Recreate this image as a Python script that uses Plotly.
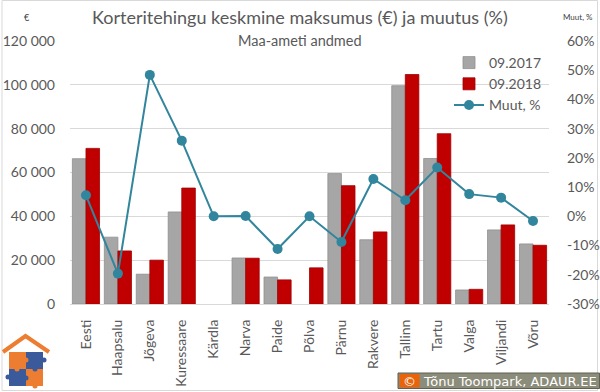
import plotly.graph_objects as go

# ---------------- data ----------------
cities = ["Eesti", "Haapsalu", "Jõgeva", "Kuressaare", "Kärdla", "Narva", "Paide", "Põlva",
          "Pärnu", "Rakvere", "Tallinn", "Tartu", "Valga", "Viljandi", "Võru"]
price_2017 = [66300, 30500, 13600, 42000, None, 21000, 12300, None,
              59500, 29300, 99600, 66400, 6400, 33800, 27400]
price_2018 = [71000, 24200, 20000, 52900, None, 20900, 11000, 16500,
              54000, 32900, 104700, 77700, 6700, 36100, 26800]
change_pct = [7.2, -19.6, 48.4, 25.9, 0.0, 0.1, -11.2, 0.0,
              -8.8, 12.8, 5.5, 16.7, 7.6, 6.4, -1.6]

left_ticks = [0, 20000, 40000, 60000, 80000, 100000, 120000]
left_ticktext = ["0", "20 000", "40 000", "60 000", "80 000", "100 000", "120 000"]
right_ticks = [-30, -20, -10, 0, 10, 20, 30, 40, 50, 60]
right_ticktext = ["-30%", "-20%", "-10%", "0%", "10%", "20%", "30%", "40%", "50%", "60%"]

# ---------------- layout geometry ----------------
W, H = 600, 392
ML, MR, MT, MB = 70, 51, 41, 88
PW, PH = W - ML - MR, H - MT - MB


def px(x):
    return (x - ML) / PW


def py(y):
    return (H - MB - y) / PH


FONT = "Lato"
TXT = "#595959"

fig = go.Figure()
fig.add_trace(go.Bar(x=cities, y=price_2017, name="09.2017",
                     marker=dict(color="#a6a6a6", line=dict(color="#8f8f8f", width=0.8))))
fig.add_trace(go.Bar(x=cities, y=price_2018, name="09.2018",
                     marker=dict(color="#c00000", line=dict(color="#a00000", width=0.8))))
fig.add_trace(go.Scatter(x=cities, y=change_pct, name="Muut, %", yaxis="y2",
                         mode="lines+markers",
                         line=dict(color="#31859c", width=2),
                         marker=dict(color="#31859c", size=10)))

shapes = []
# chart border
shapes.append(dict(type="rect", xref="paper", yref="paper",
                   x0=px(2), x1=px(597.5), y0=py(390.5), y1=py(0.5),
                   line=dict(color="#d9d9d9", width=1), fillcolor="rgba(0,0,0,0)", layer="below"))
# logo: roof
shapes.append(dict(type="path", xref="paper", yref="paper",
                   path=f"M {px(3)} {py(352)} L {px(25.5)} {py(336)} L {px(49)} {py(352)}",
                   line=dict(color="#ed7d31", width=4)))
# logo: puzzle squares
for (x0, y0, c) in [(9, 352, "#ed7d31"), (26, 352, "#3a5a9c"), (9, 369, "#3a5a9c"), (26, 369, "#ed7d31")]:
    shapes.append(dict(type="rect", xref="paper", yref="paper",
                       x0=px(x0), x1=px(x0 + 17), y0=py(y0 + 17), y1=py(y0),
                       line=dict(width=0), fillcolor=c))
# puzzle nubs
for (cx, cy, c) in [(26, 360, "#ed7d31"), (35, 369, "#3a5a9c"), (17, 369, "#ed7d31"), (26, 378, "#3a5a9c"),
                    (44, 360, "#3a5a9c"), (8, 377, "#3a5a9c"), (35, 386, "#ed7d31")]:
    shapes.append(dict(type="circle", xref="paper", yref="paper",
                       x0=px(cx - 2.5), x1=px(cx + 2.5), y0=py(cy + 2.5), y1=py(cy - 2.5),
                       line=dict(width=0), fillcolor=c))
# credit box
shapes.append(dict(type="rect", xref="paper", yref="paper",
                   x0=px(398), x1=px(599.5), y0=py(388.5), y1=py(373),
                   line=dict(color="#5f5f52", width=1), fillcolor="#8c8c7b"))
shapes.append(dict(type="rect", xref="paper", yref="paper",
                   x0=px(399.5), x1=px(419.5), y0=py(387.5), y1=py(374),
                   line=dict(width=0), fillcolor="#e8630a"))

annotations = [
    dict(text="Korteritehingu keskmine maksumus (€) ja muutus (%)", x=px(300), y=py(17),
         xref="paper", yref="paper", showarrow=False, xanchor="center", yanchor="middle",
         font=dict(family=FONT, size=18, color=TXT)),
    dict(text="Maa-ameti andmed", x=px(300), y=py(40),
         xref="paper", yref="paper", showarrow=False, xanchor="center", yanchor="middle",
         font=dict(family=FONT, size=14.5, color=TXT)),
    dict(text="€", x=px(27), y=py(17), xref="paper", yref="paper", showarrow=False,
         xanchor="center", yanchor="middle", font=dict(family=FONT, size=9, color="#404040")),
    dict(text="Muut, %", x=px(578), y=py(17), xref="paper", yref="paper", showarrow=False,
         xanchor="center", yanchor="middle", font=dict(family=FONT, size=8, color="#404040")),
    dict(text="©", x=px(409.5), y=py(381), xref="paper", yref="paper", showarrow=False,
         xanchor="center", yanchor="middle", font=dict(family="DejaVu Sans", size=13, color="white")),
    dict(text="Tõnu Toompark, ADAUR.EE", x=px(421), y=py(381), xref="paper", yref="paper",
         showarrow=False, xanchor="left", yanchor="middle",
         font=dict(family="DejaVu Sans", size=13, color="white")),
]

fig.update_layout(
    width=W, height=H,
    margin=dict(l=ML, r=MR, t=MT, b=MB, pad=0, autoexpand=False),
    paper_bgcolor="white", plot_bgcolor="white",
    barmode="group", bargap=0.15, bargroupgap=0.0,
    font=dict(family=FONT, size=13, color=TXT),
    showlegend=True,
    legend=dict(x=px(449), y=py(47), xanchor="left", yanchor="top",
                bgcolor="rgba(255,255,255,0)", font=dict(family=FONT, size=14, color=TXT),
                tracegroupgap=0, itemwidth=30),
    xaxis=dict(range=[-0.5, 14.5], tickangle=-90, showgrid=False, showline=True,
               linecolor="#d9d9d9", linewidth=1,
               ticks="", automargin=False, ticklabelstandoff=9,
               tickfont=dict(family=FONT, size=14, color=TXT)),
    yaxis=dict(range=[0, 120000], tickvals=left_ticks, ticktext=left_ticktext,
               showgrid=True, gridcolor="#d9d9d9", gridwidth=1, zeroline=False,
               showline=False, ticks="", ticklabelstandoff=14, automargin=False,
               tickfont=dict(family=FONT, size=14, color=TXT)),
    yaxis2=dict(range=[-30, 60], tickvals=right_ticks, ticktext=right_ticktext,
                overlaying="y", side="right", showgrid=False, zeroline=False,
                showline=False, ticks="", ticklabelstandoff=17, automargin=False,
                tickfont=dict(family=FONT, size=14, color=TXT)),
    shapes=shapes,
    annotations=annotations,
)

fig.write_html("out.html", config={"displayModeBar": False},
               post_script="document.body.style.margin='0';document.body.style.overflow='hidden';")
